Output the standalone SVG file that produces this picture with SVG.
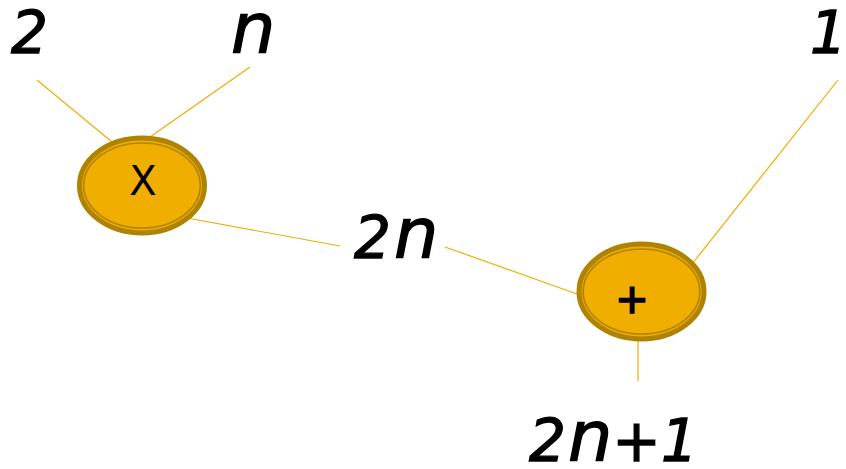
<svg xmlns="http://www.w3.org/2000/svg" width="846" height="469" viewBox="0 0 846 469">
<style>
.lbl{font-family:"DejaVu Sans",sans-serif;font-style:oblique;font-size:58px;fill:#000;stroke:#000;stroke-width:1.3}
.n{font-size:70px}
.op{font-family:"DejaVu Sans",sans-serif;font-size:40px;fill:#000;text-anchor:middle}
.bold{stroke:#000;stroke-width:1.6}
.outer{fill:#F0AE00;stroke:#AF8300;stroke-width:5}
.inner{fill:none;stroke:#AF8300;stroke-width:1.6}
.edge{stroke:#F0AE00;stroke-width:1.2;fill:none}
</style>
<rect width="846" height="469" fill="#fff"/>
<g id="connectors">
<line class="edge" x1="37" y1="80" x2="112" y2="142"/>
<line class="edge" x1="250" y1="67" x2="150" y2="137"/>
<line class="edge" x1="187" y1="218" x2="340" y2="246"/>
<line class="edge" x1="445" y1="247" x2="577" y2="294"/>
<line class="edge" x1="838" y1="80" x2="692" y2="264"/>
<line class="edge" x1="638" y1="337" x2="638" y2="381"/>
</g>
<g id="node-times">
<ellipse class="outer" cx="142" cy="185.5" rx="62.5" ry="47.5"/>
<ellipse class="inner" cx="142" cy="185.5" rx="58.3" ry="42.5"/>
<text class="op" x="143" y="195">X</text>
</g>
<g id="node-plus">
<ellipse class="outer" cx="641.5" cy="291.5" rx="62.5" ry="47.5"/>
<ellipse class="inner" cx="641.5" cy="291.5" rx="58.3" ry="42.5"/>
<text class="op bold" x="632" y="313">+</text>
</g>
<g id="label-2"><text class="lbl" x="11" y="53">2</text></g>
<g id="label-n"><text class="lbl n" x="231" y="53">n</text></g>
<g id="label-1"><text class="lbl" x="810" y="53">1</text></g>
<g id="label-2n"><text class="lbl" x="354" y="258">2<tspan class="n" dx="3">n</tspan></text></g>
<g id="label-2n1"><text class="lbl" x="529" y="461">2<tspan class="n" dx="2">n</tspan>+1</text></g>
</svg>
